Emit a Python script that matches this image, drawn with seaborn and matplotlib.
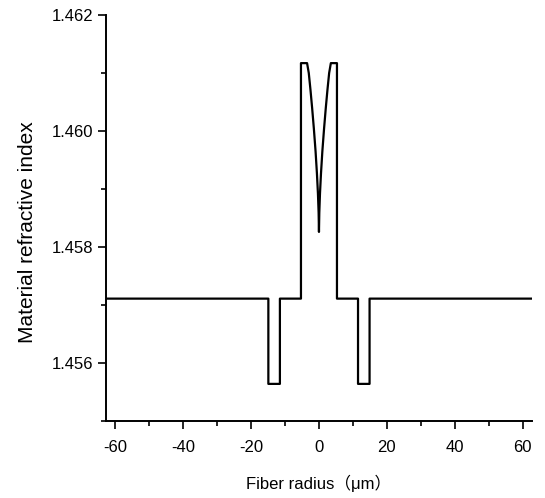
import numpy as np
import pandas as pd
import matplotlib
matplotlib.use("Agg")
import matplotlib.pyplot as plt
import seaborn as sns
from matplotlib.ticker import MultipleLocator

# ===== DADOS =====
# perfil de índice: metade esquerda, o lado direito é o espelho
raio_esq = [-63.0, -14.9, -14.9, -11.5, -11.5, -5.3, -5.3, -3.5,
            -3.0, -2.5, -2.0, -1.5, -1.0, -0.6, -0.3, -0.1, 0.0]
indice_esq = [1.45711, 1.45711, 1.45564, 1.45564, 1.45711, 1.45711, 1.46117, 1.46117,
              1.46100, 1.46071, 1.46039, 1.46004, 1.45965, 1.45927, 1.45892, 1.45859, 1.45826]

raio = raio_esq + [-r for r in raio_esq[-2::-1]]
indice = indice_esq + indice_esq[-2::-1]

xticks = [-60, -40, -20, 0, 20, 40, 60]
yticks = [1.456, 1.458, 1.460, 1.462]

df = pd.DataFrame({"raio": raio, "indice": indice})

# ===== FIGURA =====
sns.set_theme(style="ticks")
plt.rcParams['font.family'] = ['Liberation Sans', 'Noto Sans CJK SC', 'DejaVu Sans']
plt.rcParams['axes.unicode_minus'] = False

fig = plt.figure(figsize=(5.45, 4.98), dpi=100)
ax = fig.add_axes([0.1945, 0.1546, 0.7815, 0.8153])

sns.lineplot(data=df, x="raio", y="indice", sort=False, estimator=None,
             color="black", linewidth=1.6, ax=ax)

ax.set_xlim(-62.7, 62.7)
ax.set_ylim(1.4550, 1.4620)
ax.set_xticks(xticks)
ax.set_yticks(yticks)
ax.set_xticklabels([str(v) for v in xticks])
ax.set_yticklabels([f"{v:.3f}" for v in yticks])
ax.xaxis.set_minor_locator(MultipleLocator(10))
ax.yaxis.set_minor_locator(MultipleLocator(0.001))

ax.tick_params(which="major", direction="out", length=6, width=1.2,
               labelsize=12, color="black", labelcolor="black")
ax.tick_params(which="minor", direction="out", length=3.5, width=1.2, color="black")
ax.tick_params(axis="x", which="major", pad=8)
ax.tick_params(axis="y", which="major", pad=3)

for lado in ["top", "right"]:
    ax.spines[lado].set_visible(False)
for lado in ["left", "bottom"]:
    ax.spines[lado].set_linewidth(1.4)
    ax.spines[lado].set_color("black")

ax.set_xlabel("Fiber radius（μm）", fontsize=12, color="black", labelpad=14)
ax.set_ylabel("Material refractive index", fontsize=15, color="black")
ax.yaxis.set_label_coords(-0.163, 0.465)

fig.savefig("out.png", dpi=100)
